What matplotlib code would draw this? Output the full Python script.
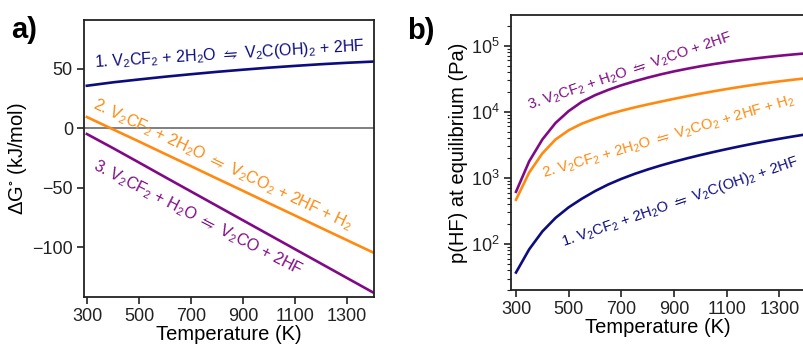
import numpy as np
import matplotlib
matplotlib.use('Agg')
import matplotlib.pyplot as plt

plt.rcParams['font.family'] = ['Liberation Sans', 'DejaVu Sans']
plt.rcParams['mathtext.fontset'] = 'custom'
plt.rcParams['mathtext.rm'] = 'Liberation Sans'
plt.rcParams['mathtext.it'] = 'Liberation Sans:italic'
plt.rcParams['mathtext.fallback'] = 'stix'

# panel a) Gibbs energy of reaction (kJ/mol)
temp_a = [298, 400, 500, 600, 700, 800, 900, 1000, 1100, 1200, 1300, 1400]
dg_1 = [35.7, 38.6, 41.0, 43.3, 45.4, 47.4, 49.2, 50.9, 52.4, 53.8, 55.0, 56.0]
dg_2 = [9.4, -1.1, -11.3, -21.7, -32.0, -42.4, -52.7, -63.1, -73.4, -83.8, -94.1, -104.4]
dg_3 = [-4.9, -16.9, -29.0, -41.2, -53.3, -65.4, -77.5, -89.6, -101.7, -113.8, -125.9, -138.0]

# panel b) HF pressure at equilibrium, read as log10(p / Pa)
temp_b = [300, 350, 400, 450, 500, 550, 600, 650, 700, 750, 800, 850,
          900, 950, 1000, 1050, 1100, 1150, 1200, 1250, 1300, 1350, 1400]
logp_1 = [1.57, 1.92, 2.19, 2.395, 2.555, 2.685, 2.80, 2.90, 2.985, 3.06, 3.127, 3.188,
          3.244, 3.296, 3.345, 3.391, 3.435, 3.477, 3.517, 3.555, 3.591, 3.625, 3.657]
logp_2 = [2.67, 3.08, 3.37, 3.58, 3.72, 3.82, 3.895, 3.96, 4.015, 4.065, 4.11, 4.153,
          4.195, 4.235, 4.273, 4.309, 4.343, 4.375, 4.405, 4.433, 4.459, 4.483, 4.505]
logp_3 = [2.79, 3.25, 3.58, 3.83, 4.01, 4.15, 4.25, 4.33, 4.40, 4.46, 4.515, 4.565,
          4.61, 4.65, 4.687, 4.72, 4.75, 4.777, 4.802, 4.825, 4.846, 4.865, 4.882]

eq = r'$\leftrightharpoons$'
labels = [
    '1. V$_2$CF$_2$ + 2H$_2$O ' + eq + ' V$_2$C(OH)$_2$ + 2HF',
    '2. V$_2$CF$_2$ + 2H$_2$O ' + eq + ' V$_2$CO$_2$ + 2HF + H$_2$',
    '3. V$_2$CF$_2$ + H$_2$O ' + eq + ' V$_2$CO + 2HF',
]
colors = ['#0c0c80', '#ff8a0f', '#800a85']
W, H = 804, 344


def style_axes(ax):
    for sp in ax.spines.values():
        sp.set_linewidth(1.3)
        sp.set_color('#222222')
    ax.tick_params(axis='both', which='major', direction='out', length=5, width=1.2,
                   labelsize=13, colors='#222222', pad=3)
    ax.tick_params(axis='both', which='minor', direction='out', length=3, width=0.8,
                   colors='#222222')


def put_label(fig, text, px, py, angle, color, size=11.5):
    fig.text(px / W, 1 - py / H, text, color=color, fontsize=size, rotation=angle,
             rotation_mode='anchor', ha='center', va='center')


fig = plt.figure(figsize=(8.04, 3.44), dpi=100)

# left panel
ax1 = fig.add_axes([84 / W, 1 - 297 / H, 290 / W, 277 / H])
ax1.axhline(0, color='#7f7f7f', lw=1.4, zorder=1)
for vals, c in zip([dg_1, dg_2, dg_3], colors):
    ax1.plot(temp_a, vals, color=c, lw=1.9)
ax1.set_xlim(287, 1405)
ax1.set_ylim(-142, 91)
ax1.set_xticks([300, 500, 700, 900, 1100, 1300])
ax1.set_yticks([-100, -50, 0, 50])
ax1.set_yticklabels(['\u2212100', '\u221250', '0', '50'])
ax1.set_xlabel('Temperature (K)', fontsize=14.5, labelpad=0)
ax1.set_ylabel('\u0394G$^{\\circ}$ (kJ/mol)', fontsize=14.5, labelpad=2)
style_axes(ax1)

# right panel
ax2 = fig.add_axes([511 / W, 1 - 290.3 / H, 294.6 / W, 275.3 / H])
for vals, c in zip([logp_1, logp_2, logp_3], colors):
    ax2.plot(temp_b, np.power(10.0, vals), color=c, lw=1.9)
ax2.set_yscale('log')
ax2.set_xlim(281, 1400)
ax2.set_ylim(20, 2.9e5)
ax2.set_xticks([300, 500, 700, 900, 1100, 1300])
ax2.set_yticks([1e2, 1e3, 1e4, 1e5])
ax2.set_xlabel('Temperature (K)', fontsize=14.5, labelpad=0)
ax2.set_ylabel('p(HF) at equilibrium (Pa)', fontsize=14.5, labelpad=2)
style_axes(ax2)

fig.text(11 / W, 1 - 30 / H, 'a)', fontsize=21, fontweight='bold', va='center')
fig.text(407 / W, 1 - 31 / H, 'b)', fontsize=21, fontweight='bold', va='center')

put_label(fig, labels[0], 230, 54, 3.5, colors[0])
put_label(fig, labels[1], 223, 165, -25.4, colors[1])
put_label(fig, labels[2], 198, 218, -27.2, colors[2])
put_label(fig, labels[2], 630, 72, 18.8, colors[2], 10.6)
put_label(fig, labels[1], 669, 137, 16.4, colors[1], 10.6)
put_label(fig, labels[0], 680, 202, 19.1, colors[0], 10.6)

fig.savefig('out.png', dpi=100)
